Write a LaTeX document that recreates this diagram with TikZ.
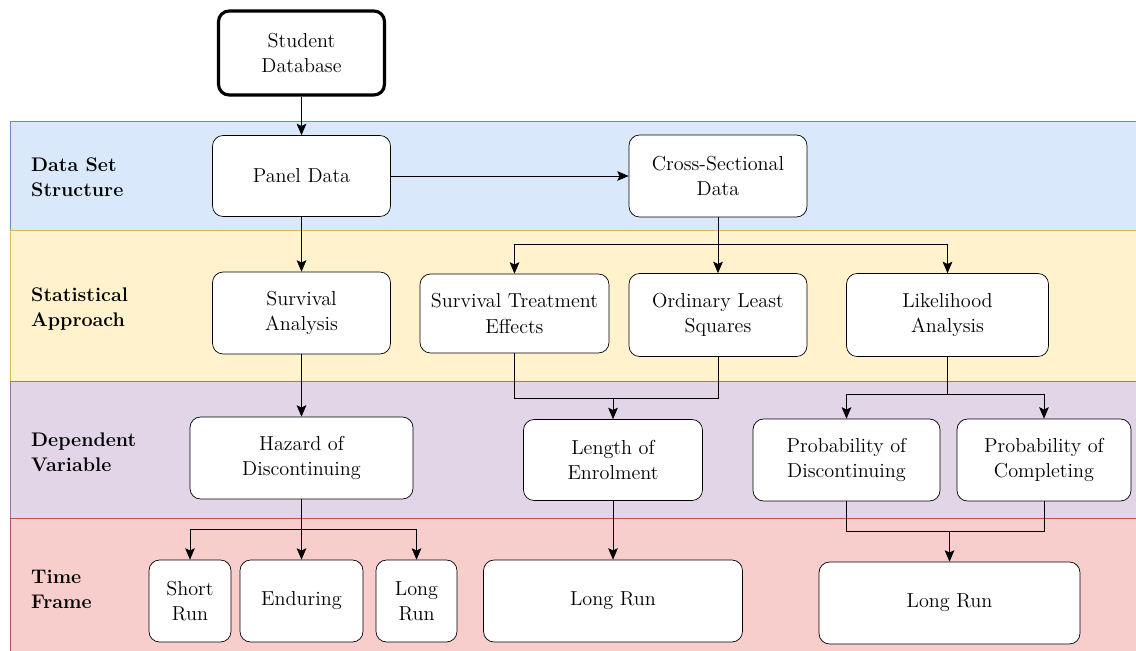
\documentclass[tikz,border=0pt]{standalone}
\usepackage{fontspec}
\usetikzlibrary{arrows.meta,positioning}
\definecolor{setfill}{HTML}{DAE8FC}
\definecolor{setline}{HTML}{6C8EBF}
\definecolor{appfill}{HTML}{FFF2CC}
\definecolor{appline}{HTML}{D6B656}
\definecolor{varfill}{HTML}{E1D5E7}
\definecolor{varline}{HTML}{9673A6}
\definecolor{timefill}{HTML}{F8CECC}
\definecolor{timeline}{HTML}{B85450}
\tikzset{>={Stealth[length=6.5pt,width=5.5pt,inset=1.3pt]},line width=0.65pt}
\tikzset{box/.style={draw,rounded corners=6pt,fill=white,align=center,
    inner sep=0pt,minimum height=1.64cm,text=black,
    font=\fontsize{11.5}{14.3}\selectfont}}
\tikzset{lane/.style={line width=0.5pt}}
\tikzset{lanelabel/.style={anchor=west,align=left,
    font=\fontsize{11.2}{14.3}\selectfont\bfseries}}

\begin{document}
\begin{tikzpicture}[x=0.02cm,y=-0.02cm]
    \useasboundingbox (0,0) rectangle (1136,650);
    % lanes
    \draw[lane,fill=setfill,draw=setline]   (10,121) rectangle (1140,230);
    \draw[lane,fill=appfill,draw=appline]   (10,230) rectangle (1140,381);
    \draw[lane,fill=varfill,draw=varline]   (10,381) rectangle (1140,518);
    \draw[lane,fill=timefill,draw=timeline] (10,518) rectangle (1140,654);
    \node[lanelabel] (l1) at (25,177) {Data Set\\Structure};
    \node[lanelabel] (l2) at (25,309) {Statistical\\Approach};
    \node[lanelabel] (l3) at (25,452) {Dependent\\Variable};
    \node[lanelabel] (l4) at (25,589) {Time\\Frame};

    \node[box,line width=1.8pt,minimum width=3.32cm,minimum height=1.68cm] (sdb) at (301.5,53) {Student\\Database};
    \node[box,minimum width=3.56cm,minimum height=1.62cm] (panel) at (301.5,176) {Panel Data};
    \node[box,minimum width=3.56cm] (cs) at (718,176) {Cross-Sectional\\Data};

    \node[box,minimum width=3.56cm] (surv) at (301.5,313) {Survival\\Analysis};
    \node[box,minimum width=3.78cm,minimum height=1.58cm] (ste) at (514.5,313.5) {Survival Treatment\\Effects};
    \node[box,minimum width=3.56cm,minimum height=1.66cm] (ols) at (718,315) {Ordinary Least\\Squares};
    \node[box,minimum width=4.04cm,minimum height=1.66cm] (lik) at (947.5,315) {Likelihood\\Analysis};

    \node[box,minimum width=4.46cm] (haz) at (301.5,458) {Hazard of\\Discontinuing};
    \node[box,minimum width=3.58cm,minimum height=1.62cm] (len) at (613,460) {Length of\\Enrolment};
    \node[box,minimum width=3.74cm] (pd) at (846.5,460) {Probability of\\Discontinuing};
    \node[box,minimum width=3.48cm] (pc) at (1044,460) {Probability of\\Completing};

    \node[box,minimum width=1.64cm] (sr) at (190,601) {Short\\Run};
    \node[box,minimum width=2.46cm] (endu) at (301.5,601) {Enduring};
    \node[box,minimum width=1.62cm] (lrl) at (416.5,601) {Long\\Run};
    \node[box,minimum width=5.18cm] (lrm) at (613,601) {Long Run};
    \node[box,minimum width=5.22cm] (lrr) at (949.5,603) {Long Run};

    \coordinate (jcs) at (718,244);
    \coordinate (jlen) at (613,398);
    \coordinate (jlik) at (947.5,394);
    \coordinate (jhaz) at (301.5,529);
    \coordinate (jprob) at (949.5,531);

    \path[->]
        (sdb) edge (panel)
        (panel) edge (cs)
        (panel) edge (surv)
        (surv) edge (haz)
        (len) edge (lrm)
    ;
    \draw (cs) -- (jcs);
    \draw[->] (jcs) -| (ste);
    \draw[->] (jcs) -- (ols);
    \draw[->] (jcs) -| (lik);
    \draw (ste) |- (jlen) -| (ols);
    \draw[->] (jlen) -- (len);
    \draw (lik) -- (jlik);
    \draw[->] (jlik) -| (pd);
    \draw[->] (jlik) -| (pc);
    \draw (haz) -- (jhaz);
    \draw[->] (jhaz) -| (sr);
    \draw[->] (jhaz) -- (endu);
    \draw[->] (jhaz) -| (lrl);
    \draw (pd) |- (jprob) -| (pc);
    \draw[->] (jprob) -- (lrr);
\end{tikzpicture}
\end{document}
